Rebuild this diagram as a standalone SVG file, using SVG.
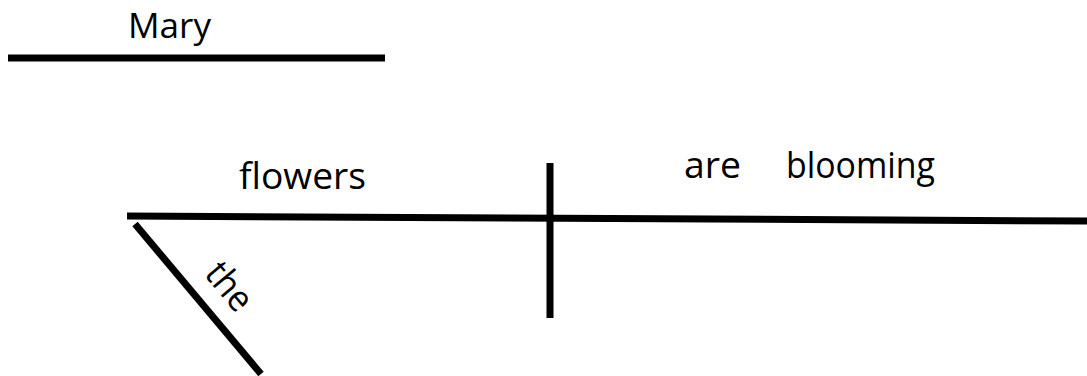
<svg xmlns="http://www.w3.org/2000/svg" width="1087" height="376" viewBox="0 0 1087 376">
<style>
.ln{stroke:#000;stroke-width:7;fill:none}
.t{font-family:"Open Sans","DejaVu Sans",sans-serif;font-size:37px;fill:#000}
.m{font-size:35px}
</style>
<rect width="1087" height="376" fill="#fff"/>
<g id="connectors">
<line class="ln" x1="8" y1="58" x2="385" y2="58"/>
<line class="ln" x1="127" y1="216" x2="1087" y2="221"/>
<line class="ln" x1="550" y1="163" x2="550" y2="318"/>
<line class="ln" x1="135" y1="224" x2="261" y2="374"/>
</g>
<g id="node-mary"><text class="t m" x="128" y="38" textLength="83" lengthAdjust="spacingAndGlyphs">Mary</text></g>
<g id="node-flowers"><text class="t" x="239" y="189" textLength="127" lengthAdjust="spacingAndGlyphs">flowers</text></g>
<g id="node-are"><text class="t" x="684" y="178" textLength="57" lengthAdjust="spacingAndGlyphs">are</text></g>
<g id="node-blooming"><text class="t" x="786" y="178" textLength="149" lengthAdjust="spacingAndGlyphs">blooming</text></g>
<g id="node-the"><text class="t" x="231" y="285" text-anchor="middle" dominant-baseline="central" textLength="52" lengthAdjust="spacingAndGlyphs" transform="rotate(50 231 285)">the</text></g>
</svg>
